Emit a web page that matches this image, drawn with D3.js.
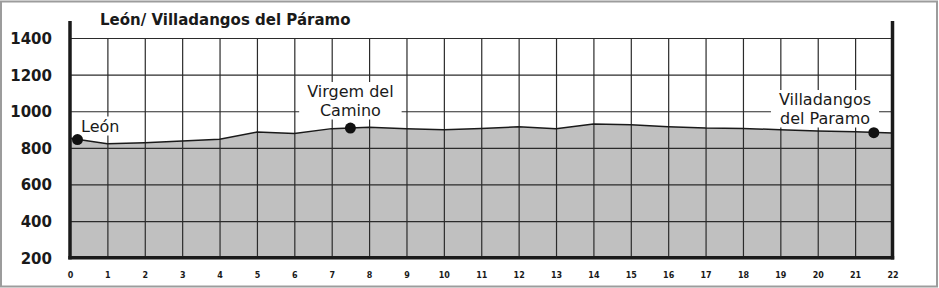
<!DOCTYPE html>
<html>
<head>
<meta charset="utf-8">
<script src="https://cdn.jsdelivr.net/npm/d3@7"></script>
<style>
  body { margin: 0; background: #fff; }
  svg { display: block; }
</style>
</head>
<body>
<div id="chart"></div>
<script>
// profile data (km, elevation in m)
var km = [0, 1, 2, 3, 4, 5, 6, 7, 8, 9, 10, 11, 12, 13, 14, 15, 16, 17, 18, 19, 20, 21, 22];
var elevation = [852, 822, 828, 838, 847, 886, 879, 905, 912, 904, 899, 906, 915, 904, 930, 926, 915, 908, 906, 899, 892, 888, 881];

// towns on the route
var townNames = ["León", "Virgem del\nCamino", "Villadangos\ndel Paramo"];
var townKm = [0.2, 7.5, 21.5];
var townElev = [845, 908, 883];

var xTicks = d3.range(0, 23);
var yTicks = [200, 400, 600, 800, 1000, 1200, 1400];
var title = "León/ Villadangos del Páramo";

var svgWidth = 939;
var svgHeight = 288;

var svg = d3.select("#chart")
  .append("svg")
  .attr("width", svgWidth)
  .attr("height", svgHeight);

// outer frame
svg.append("rect")
  .attr("x", 1)
  .attr("y", 1.5)
  .attr("width", 936)
  .attr("height", 285)
  .attr("fill", "none")
  .attr("stroke", "#9c9c9c")
  .attr("stroke-width", 2);

var x = d3.scaleLinear().domain([0, 22]).range([70, 892.5]);
var y = d3.scaleLinear().domain([200, 1400]).range([257.7, 38]);

var profile = km.map(function(d, i) { return { km: d, elev: elevation[i] }; });

// area under the profile
var area = d3.area()
  .x(d => x(d.km))
  .y0(y(200))
  .y1(d => y(d.elev));

svg.append("path")
  .datum(profile)
  .attr("d", area)
  .attr("fill", "#c0c0c0");

// grid lines
svg.append("g")
  .attr("transform", `translate(0, ${y(200)})`)
  .call(d3.axisBottom(x).tickValues(xTicks.slice(1, 22)).tickSize(-(y(200) - y(1400))).tickFormat(""))
  .call(g => g.select(".domain").remove())
  .selectAll("line")
  .attr("stroke", "#2b2b2b")
  .attr("stroke-width", 1.2);

svg.append("g")
  .attr("transform", `translate(${x(0)}, 0)`)
  .call(d3.axisLeft(y).tickValues(yTicks.slice(1)).tickSize(-(x(22) - x(0))).tickFormat(""))
  .call(g => g.select(".domain").remove())
  .selectAll("line")
  .attr("stroke", "#2b2b2b")
  .attr("stroke-width", 1.2);

// profile line
var line = d3.line()
  .x(d => x(d.km))
  .y(d => y(d.elev));

svg.append("path")
  .datum(profile)
  .attr("d", line)
  .attr("fill", "none")
  .attr("stroke", "#1a1a1a")
  .attr("stroke-width", 1.5);

// thick frame of the plot
var frame = svg.append("g")
  .attr("stroke", "#1a1a1a")
  .attr("stroke-width", 3.5);
frame.append("line")
  .attr("x1", x(0)).attr("x2", x(0))
  .attr("y1", 21).attr("y2", y(200) + 1.7);
frame.append("line")
  .attr("x1", x(22)).attr("x2", x(22))
  .attr("y1", 21).attr("y2", y(200) + 1.7);
frame.append("line")
  .attr("x1", x(0) - 1.7).attr("x2", x(22) + 1.7)
  .attr("y1", y(200)).attr("y2", y(200));

// axis labels
var xAxis = svg.append("g")
  .attr("transform", `translate(0, ${y(200)})`)
  .call(d3.axisBottom(x).tickValues(xTicks).tickSize(0).tickFormat(d3.format("d")));
xAxis.select(".domain").remove();
xAxis.selectAll("text")
  .attr("y", 20)
  .attr("dy", 0)
  .style("font-family", "'DejaVu Sans', Verdana, sans-serif")
  .style("font-weight", "bold")
  .style("font-size", "8px")
  .attr("fill", "#1a1a1a");

var yAxis = svg.append("g")
  .attr("transform", `translate(${x(0)}, 0)`)
  .call(d3.axisLeft(y).tickValues(yTicks).tickSize(0).tickPadding(18).tickFormat(d3.format("d")));
yAxis.select(".domain").remove();
yAxis.selectAll("text")
  .attr("dy", "0.36em")
  .style("font-family", "'DejaVu Sans', Verdana, sans-serif")
  .style("font-weight", "bold")
  .style("font-size", "15px")
  .attr("fill", "#1a1a1a");

// title
svg.append("text")
  .attr("x", 100)
  .attr("y", 25)
  .style("font-family", "'DejaVu Sans', Verdana, sans-serif")
  .style("font-weight", "bold")
  .style("font-size", "15px")
  .attr("fill", "#1a1a1a")
  .text(title);

// town labels with white background
var labelPos = [
  { x: 81, y: 131.5, anchor: "start", pad: 3 },
  { x: x(7.5), y: 97, anchor: "middle", pad: 8 },
  { x: 825, y: 105, anchor: "middle", pad: 8 }
];

townNames.forEach(function(name, i) {
  var p = labelPos[i];
  var g = svg.append("g");
  var bg = g.append("rect").attr("fill", "#fff");
  var t = g.append("text")
    .attr("text-anchor", p.anchor)
    .style("font-family", "'DejaVu Sans', Verdana, sans-serif")
    .style("font-size", "16px")
    .attr("fill", "#1a1a1a");
  name.split("\n").forEach(function(part, j) {
    t.append("tspan")
      .attr("x", p.x)
      .attr("y", p.y + j * 18.5)
      .text(part);
  });
  var b = t.node().getBBox();
  bg.attr("x", b.x - p.pad)
    .attr("y", b.y)
    .attr("width", b.width + 2 * p.pad)
    .attr("height", b.height);
});

// town dots
svg.selectAll(".town")
  .data(townKm)
  .enter()
  .append("circle")
  .attr("class", "town")
  .attr("cx", d => x(d))
  .attr("cy", (d, i) => y(townElev[i]))
  .attr("r", 5.5)
  .attr("fill", "#111");
</script>
</body>
</html>
